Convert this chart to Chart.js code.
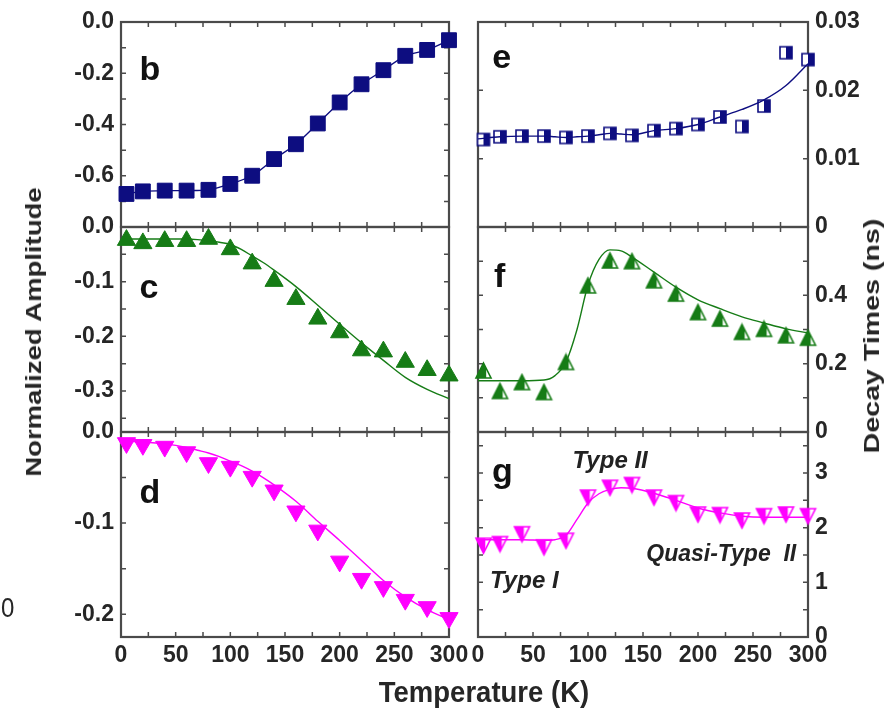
<!DOCTYPE html>
<html lang="en">
<head>
<meta charset="UTF-8">
<title>Normalized amplitude and decay times vs temperature</title>
<script src="https://cdn.jsdelivr.net/npm/chart.js"></script>
<style>
  body { margin: 0; background: #fff; }
  #wrap { position: relative; width: 895px; height: 721px; overflow: hidden; }
  #wrap canvas { position: absolute; left: 0; top: 0; }
  .lbl { position: absolute; font-family: 'Liberation Sans', Arial, sans-serif; font-weight: bold; color: #262626; white-space: nowrap; }
</style>
</head>
<body>
<div id="wrap">
  <canvas id="pb" width="895" height="721"></canvas>
  <canvas id="pc" width="895" height="721"></canvas>
  <canvas id="pd" width="895" height="721"></canvas>
  <canvas id="pe" width="895" height="721"></canvas>
  <canvas id="pf" width="895" height="721"></canvas>
  <canvas id="pg" width="895" height="721"></canvas>
  <div class="lbl" style="left:34px; top:332px; font-size:22px; transform:translate(-50%,-50%) rotate(-90deg) scaleX(1.25);">Normalized Amplitude</div>
  <div class="lbl" style="left:872px; top:336px; font-size:22px; transform:translate(-50%,-50%) rotate(-90deg) scaleX(1.3);">Decay Times (ns)</div>
  <div class="lbl" style="left:484px; top:692px; font-size:25px; transform:translate(-50%,-50%) scale(1.1, 1.15);">Temperature (K)</div>
  <div class="lbl" style="left:1px; top:608px; font-size:24px; transform:translateY(-50%) scaleY(1.15); font-weight:normal;">0</div>
</div>

<script>
// measured temperatures (K)
const temps = [5, 20, 40, 60, 80, 100, 120, 140, 160, 180, 200, 220, 240, 260, 280, 300];

// left column: normalized amplitudes
const ampB = [-0.671, -0.661, -0.658, -0.658, -0.655, -0.632, -0.600, -0.535, -0.477, -0.396, -0.314, -0.243, -0.188, -0.132, -0.109, -0.071];
const ampC = [-0.024, -0.030, -0.026, -0.026, -0.022, -0.041, -0.067, -0.099, -0.132, -0.168, -0.193, -0.226, -0.228, -0.247, -0.262, -0.272];
const ampD = [-0.012, -0.014, -0.016, -0.022, -0.034, -0.038, -0.049, -0.064, -0.087, -0.108, -0.142, -0.161, -0.170, -0.184, -0.192, -0.204];

// right column: decay times (ns)
const tauE = [0.0128, 0.0132, 0.0133, 0.0133, 0.0131, 0.0133, 0.0137, 0.0134, 0.0141, 0.0144, 0.0150, 0.0161, 0.0147, 0.0177, 0.0255, 0.0245];
const tauF = [0.180, 0.120, 0.146, 0.117, 0.205, 0.429, 0.502, 0.500, 0.444, 0.405, 0.351, 0.332, 0.293, 0.302, 0.283, 0.276];
const tauG = [1.67, 1.70, 1.88, 1.64, 1.76, 2.55, 2.73, 2.78, 2.55, 2.45, 2.24, 2.23, 2.13, 2.21, 2.24, 2.21];

// fitted curves
const fitT = [0, 20, 40, 60, 70, 80, 90, 100, 110, 120, 130, 140, 160, 180, 200, 220, 240, 260, 280, 300];
const fitC = [-0.022, -0.022, -0.022, -0.022, -0.023, -0.025, -0.028, -0.032, -0.041, -0.053, -0.065, -0.079, -0.109, -0.143, -0.178, -0.212, -0.244, -0.275, -0.297, -0.314];
const fitD = [-0.010, -0.011, -0.013, -0.017, -0.020, -0.023, -0.027, -0.032, -0.037, -0.043, -0.050, -0.058, -0.076, -0.098, -0.119, -0.141, -0.163, -0.181, -0.195, -0.206];
const fitE = [0.0129, 0.0132, 0.0133, 0.0133, 0.0132, 0.0131, 0.0132, 0.0133, 0.0135, 0.0137, 0.0136, 0.0135, 0.0141, 0.0144, 0.0150, 0.0161, 0.0172, 0.0186, 0.0207, 0.0239];
const fitF = [0.150, 0.150, 0.150, 0.152, 0.165, 0.205, 0.300, 0.430, 0.505, 0.533, 0.530, 0.512, 0.468, 0.424, 0.387, 0.361, 0.337, 0.319, 0.302, 0.290];
const fitG = [1.78, 1.78, 1.78, 1.77, 1.78, 1.86, 2.15, 2.45, 2.62, 2.70, 2.73, 2.72, 2.63, 2.50, 2.36, 2.27, 2.21, 2.19, 2.19, 2.19];

// axis ticks
const xTicks = [0, 50, 100, 150, 200, 250, 300];
const xMinor = [0, 25, 50, 75, 100, 125, 150, 175, 200, 225, 250, 275, 300];
const bTicks = [0, -0.2, -0.4, -0.6];
const bTickLabels = ['0.0', '-0.2', '-0.4', '-0.6'];
const bMinor = [-0.1, -0.2, -0.3, -0.4, -0.5, -0.6, -0.7];
const cTicks = [0, -0.1, -0.2, -0.3];
const cTickLabels = ['0.0', '-0.1', '-0.2', '-0.3'];
const cMinor = [-0.05, -0.1, -0.15, -0.2, -0.25, -0.3, -0.35];
const dTicks = [0, -0.1, -0.2];
const dTickLabels = ['0.0', '-0.1', '-0.2'];
const dMinor = [-0.05, -0.1, -0.15, -0.2];
const eTicks = [0.03, 0.02, 0.01, 0];
const eTickLabels = ['0.03', '0.02', '0.01', '0'];
const fTicks = [0.4, 0.2, 0];
const fTickLabels = ['0.4', '0.2', '0'];
const fMinor = [0.1, 0.2, 0.3, 0.4, 0.5];
const gTicks = [3, 2, 1, 0];
const gTickLabels = ['3', '2', '1', '0'];
const gMinor = [0.5, 1, 1.5, 2, 2.5, 3, 3.5];

const NAVY = '#0d0d80', GREEN = '#167c16', MAGENTA = '#ff00ff';
const TICKFONT = { family: "'Liberation Sans', Arial, sans-serif", weight: 'bold', size: 23 };
const W = 895, H = 721;

// part filled markers for the decay-time panels
function marker(shape, size, color, frac) {
  const c = document.createElement('canvas');
  c.width = size + 4; c.height = size + 4;
  const g = c.getContext('2d');
  const o = 2, s = size;
  g.beginPath();
  if (shape === 'square') {
    g.rect(o, o, s, s);
  } else if (shape === 'up') {
    g.moveTo(o + s / 2, o); g.lineTo(o + s, o + s); g.lineTo(o, o + s); g.closePath();
  } else {
    g.moveTo(o, o); g.lineTo(o + s, o); g.lineTo(o + s / 2, o + s); g.closePath();
  }
  g.fillStyle = '#fff'; g.fill();
  g.save(); g.clip();
  g.fillStyle = color;
  if (shape === 'square') g.fillRect(o + s * (1 - frac), o, s * frac, s);
  else g.fillRect(o, o, s * frac, s);
  g.restore();
  g.strokeStyle = color; g.lineWidth = 1.6; g.stroke();
  return c;
}

const framePlugin = {
  id: 'frame',
  beforeDatasetsDraw(chart, args, opts) {
    const { ctx, chartArea: a, scales: { x, y } } = chart;
    ctx.save();
    ctx.strokeStyle = '#4a4a4a';
    ctx.lineWidth = 1.5;
    ctx.beginPath();
    const t = 5;
    opts.xMarks.forEach(v => {
      const px = x.getPixelForValue(v);
      ctx.moveTo(px, a.top); ctx.lineTo(px, a.top + t);
      ctx.moveTo(px, a.bottom); ctx.lineTo(px, a.bottom - t);
    });
    opts.yMarks.forEach(v => {
      const py = y.getPixelForValue(v);
      ctx.moveTo(a.left, py); ctx.lineTo(a.left + t, py);
      ctx.moveTo(a.right, py); ctx.lineTo(a.right - t, py);
    });
    ctx.stroke();
    ctx.lineWidth = 2.2;
    ctx.strokeRect(a.left, a.top, a.width, a.height);
    ctx.restore();
  },
  afterDatasetsDraw(chart, args, opts) {
    const { ctx, scales: { x, y } } = chart;
    (opts.texts || []).forEach(t => {
      ctx.save();
      ctx.font = t.font;
      ctx.fillStyle = t.color || '#111';
      ctx.textAlign = 'left';
      ctx.textBaseline = 'alphabetic';
      ctx.fillText(t.text, x.getPixelForValue(t.x), y.getPixelForValue(t.y));
      ctx.restore();
    });
  }
};

const cols = { left: { l: 121, r: 449, side: 'left' }, right: { l: 478, r: 808, side: 'right' } };
const rows = [{ t: 22, b: 227 }, { t: 227, b: 432 }, { t: 432, b: 637 }];

function pts(xs, ys) { return xs.map((v, i) => ({ x: v, y: ys[i] })); }

function panel(id, col, row, yMin, yMax, ticks, labels, minor, datasets, texts) {
  const bottomRow = row === rows[2];
  const axisW = 60, axisH = bottomRow ? 40 : 0;
  const pad = {
    left: col.side === 'left' ? col.l - axisW : col.l,
    right: col.side === 'left' ? W - col.r : W - col.r - axisW,
    top: row.t,
    bottom: H - row.b - axisH
  };
  return new Chart(document.getElementById(id), {
    type: 'line',
    data: { datasets },
    options: {
      responsive: false,
      animation: false,
      layout: { autoPadding: false, padding: pad },
      plugins: {
        legend: { display: false },
        tooltip: { enabled: false },
        frame: { xMarks: xMinor, yMarks: minor || ticks, texts }
      },
      scales: {
        x: {
          type: 'linear', min: 0, max: 300, position: 'bottom',
          afterBuildTicks: s => { s.ticks = xTicks.map(v => ({ value: v })); },
          afterFit: s => { s.height = axisH; },
          grid: { display: false, drawTicks: false },
          border: { display: false },
          ticks: { display: bottomRow, font: TICKFONT, color: '#262626', padding: 5, maxRotation: 0, autoSkip: false }
        },
        y: {
          type: 'linear', min: yMin, max: yMax, position: col.side,
          afterBuildTicks: s => { s.ticks = ticks.map(v => ({ value: v })); },
          afterFit: s => { s.width = axisW; },
          grid: { display: false, drawTicks: false },
          border: { display: false },
          ticks: { font: TICKFONT, color: '#262626', padding: 7, autoSkip: false, callback: (v, i) => labels[i] }
        }
      }
    },
    plugins: [framePlugin]
  });
}

const LETTER = "bold 34px 'Liberation Sans', Arial, sans-serif";
const NOTE = "italic bold 24px 'Liberation Sans', Arial, sans-serif";
const NOTE_SM = "italic bold 23px 'Liberation Sans', Arial, sans-serif";

const scatter = (ys, style, r, color, extra) => Object.assign({
  data: pts(temps, ys), showLine: false, pointStyle: style, pointRadius: r,
  pointBackgroundColor: color, pointBorderColor: color, pointBorderWidth: 1, clip: false
}, extra || {});
const fit = (ys, color) => ({
  data: pts(fitT, ys), showLine: true, pointRadius: 0, borderColor: color, borderWidth: 1.4,
  cubicInterpolationMode: 'monotone', clip: false
});

panel('pb', cols.left, rows[0], -0.8, 0, bTicks, bTickLabels, bMinor, [
  scatter(ampB, 'rect', 10.5, NAVY, { showLine: true, borderColor: NAVY, borderWidth: 1.4, tension: 0.25 })
], [{ text: 'b', x: 17, y: -0.226, font: LETTER }]);

panel('pc', cols.left, rows[1], -0.375, 0, cTicks, cTickLabels, cMinor, [
  fit(fitC, GREEN),
  scatter(ampC, 'triangle', 10.5, GREEN)
], [{ text: 'c', x: 17, y: -0.13, font: LETTER }]);

panel('pd', cols.left, rows[2], -0.225, 0, dTicks, dTickLabels, dMinor, [
  fit(fitD, MAGENTA),
  scatter(ampD, 'triangle', 10.5, MAGENTA, { rotation: 180 })
], [{ text: 'd', x: 17, y: -0.078, font: LETTER }]);

panel('pe', cols.right, rows[0], 0, 0.03, eTicks, eTickLabels, eTicks, [
  fit(fitE, NAVY),
  scatter(tauE, marker('square', 12, NAVY, 0.5), 7, NAVY)
], [{ text: 'e', x: 13, y: 0.0233, font: LETTER }]);

panel('pf', cols.right, rows[1], 0, 0.6, fTicks, fTickLabels, fMinor, [
  fit(fitF, GREEN),
  scatter(tauF, marker('up', 15, GREEN, 0.68), 8, GREEN)
], [{ text: 'f', x: 14.5, y: 0.424, font: LETTER }]);

panel('pg', cols.right, rows[2], 0, 3.75, gTicks, gTickLabels, gMinor, [
  fit(fitG, MAGENTA),
  scatter(tauG, marker('down', 15, MAGENTA, 0.62), 8, MAGENTA)
], [
  { text: 'g', x: 12.7, y: 2.835, font: LETTER },
  { text: 'Type II', x: 86, y: 3.09, font: NOTE, color: '#222' },
  { text: 'Quasi-Type  II', x: 153, y: 1.39, font: NOTE_SM, color: '#222' },
  { text: 'Type I', x: 11, y: 0.9, font: NOTE, color: '#222' }
]);
</script>
</body>
</html>
